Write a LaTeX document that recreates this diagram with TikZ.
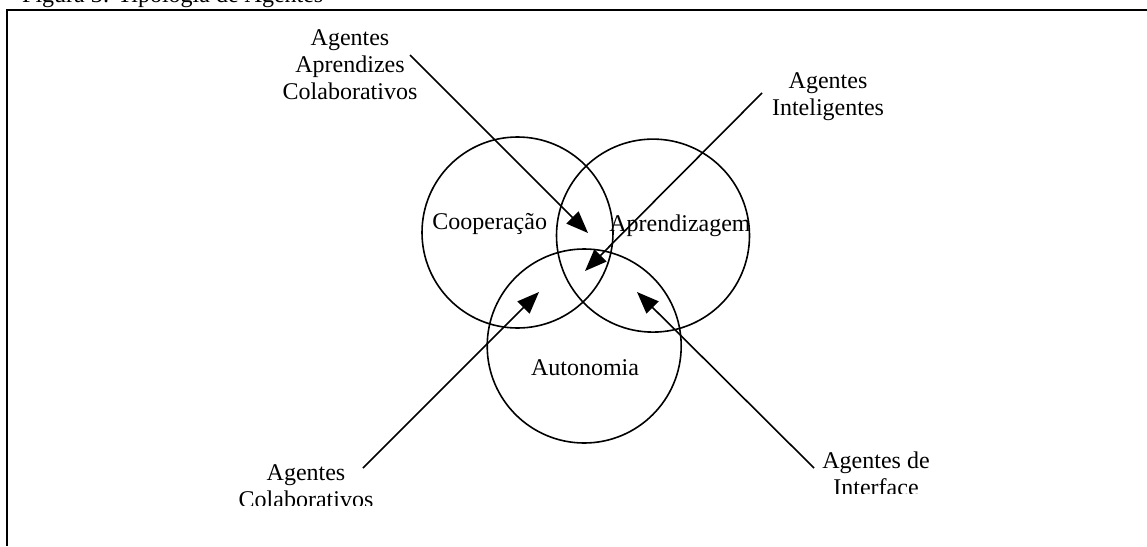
\documentclass[tikz,border=0pt]{standalone}
\usepackage{fontspec}
\setmainfont{Liberation Serif}
\usetikzlibrary{arrows.meta}
\begin{document}
\begin{tikzpicture}[x=1pt,y=-1pt,
  ring/.style={circle,draw,line width=1.6pt,minimum size=#1,inner sep=0pt},
  txt/.style={font=\fontsize{24}{27}\selectfont, inner sep=0pt, anchor=base},
  lbl/.style={txt, align=center},
  arr/.style={line width=1.6pt,-{Triangle[length=22pt,width=17pt]}},
  frameline/.style={line width=2pt}]
\useasboundingbox (0,0) rectangle (1147,546);
\clip (0,0) rectangle (1147,546);
% caption (cut off at the top)
\node[txt, anchor=base west] (cap) at (22,2.5) {Figura 3: Tipologia de Agentes};
% frame
\coordinate (fTL) at (6.5,10);
\coordinate (fTR) at (1147,10);
\coordinate (fBL) at (6.5,546);
\draw[frameline] (fTR) -- (fTL) -- (fBL);
% circles
\node[ring=191pt] (coop) at (517.5,232.5) {};
\node[ring=193pt] (apre) at (653,235.6) {};
\node[ring=194pt] (auto) at (584.2,346) {};
% circle texts
\node[txt] (tCoop) at (489.7,229) {Cooperação};
\node[txt] (tApre) at (680,231.7) {Aprendizagem};
\node[txt] (tAuto) at (585,375.7) {Autonomia};
% outer labels (base = baseline of the last line)
\node[lbl] (lAC) at (350,99) {Agentes\\Aprendizes\\Colaborativos};
\node[lbl] (lIn) at (828,115) {Agentes\\Inteligentes};
\begin{scope}
\clip (200,440) rectangle (430,505);
\node[lbl] (lCo) at (306,507) {Agentes\\Colaborativos};
\end{scope}
\begin{scope}
\clip (780,430) rectangle (990,493);
\node[lbl] (lIf) at (876,495) {Agentes de\\Interface};
\end{scope}
% arrows
\coordinate (s1) at (410,55);  \coordinate (t1) at (588,233);
\coordinate (s2) at (762,93);  \coordinate (t2) at (585,271);
\coordinate (s3) at (363,468); \coordinate (t3) at (539,292);
\coordinate (s4) at (814,468); \coordinate (t4) at (637,292);
\draw[arr] (s1) -- (t1);
\draw[arr] (s2) -- (t2);
\draw[arr] (s3) -- (t3);
\draw[arr] (s4) -- (t4);
\end{tikzpicture}
\end{document}
